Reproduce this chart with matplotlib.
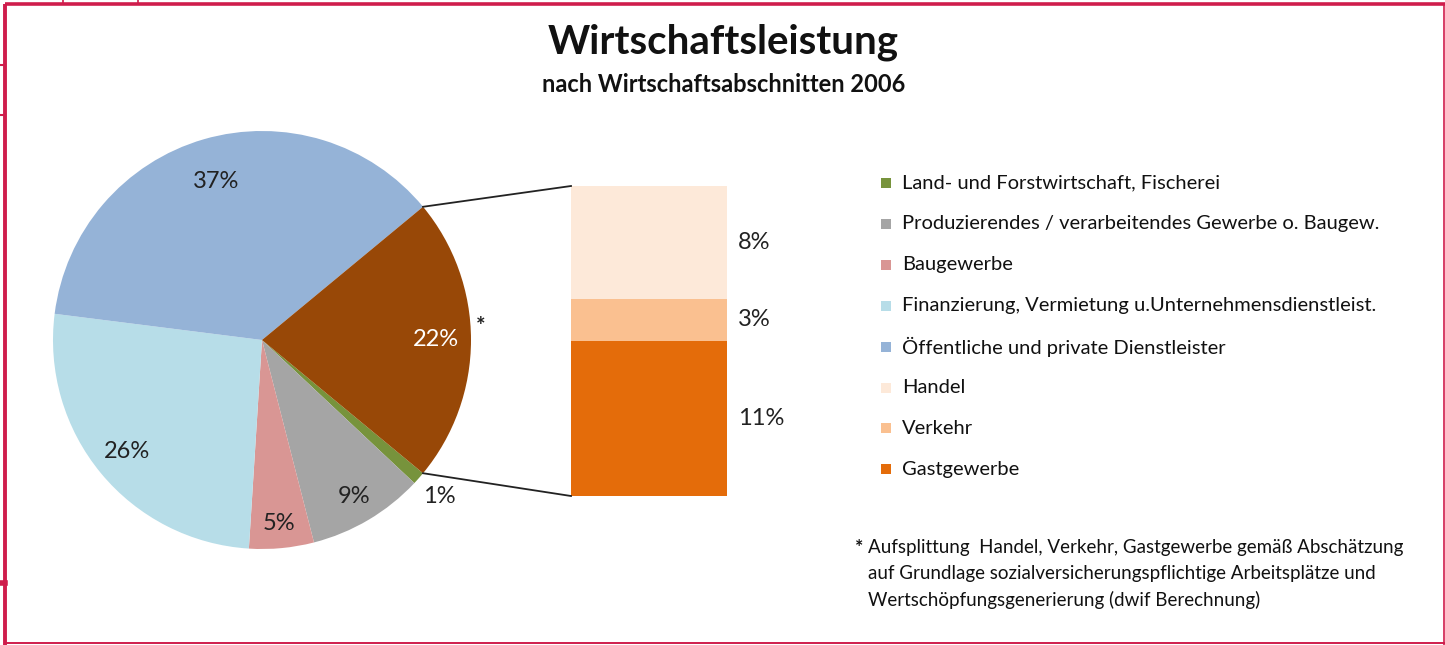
import numpy as np
import matplotlib.pyplot as plt
from matplotlib.patches import Rectangle, Wedge

plt.rcParams['font.family'] = ['Lato', 'DejaVu Sans']

# data
pie_labels = ["Land- und Forstwirtschaft, Fischerei",
              "Produzierendes / verarbeitendes Gewerbe o. Baugew.",
              "Baugewerbe",
              "Finanzierung, Vermietung u.Unternehmensdienstleist.",
              "Öffentliche und private Dienstleister"]
pie_values = [1, 9, 5, 26, 37]
pie_colors = ["#77933c", "#a5a5a5", "#d99694", "#b7dde8", "#95b3d7"]
other_value = 22
other_color = "#984807"

bar_labels = ["Handel", "Verkehr", "Gastgewerbe"]
bar_values = [8, 3, 11]
bar_colors = ["#fde9d9", "#fac090", "#e46c0a"]

footnote = ("Aufsplittung  Handel, Verkehr, Gastgewerbe gemäß Abschätzung\n"
            "auf Grundlage sozialversicherungspflichtige Arbeitsplätze und\n"
            "Wertschöpfungsgenerierung (dwif Berechnung)")

W, H = 1445, 645
fig = plt.figure(figsize=(W / 100, H / 100), dpi=100)
ax = fig.add_axes([0, 0, 1, 1])
ax.set_xlim(0, W)
ax.set_ylim(H, 0)
ax.axis('off')

# pie, in image coords (y down), so clockwise on screen = increasing angle
cx, cy, r = 262, 340, 209
vals = pie_values + [other_value]
cols = pie_colors + [other_color]
total = sum(vals)
a = other_value / total * 180.0  # other slice centred on 0 deg
angles = []
for v, c in zip(vals, cols):
    span = v / total * 360.0
    ax.add_patch(Wedge((cx, cy), r, a, a + span, facecolor=c, edgecolor='none'))
    angles.append(a + span / 2)
    a += span

pct_dist = [1.13, 0.87, 0.88, 0.84, 0.79, 0.83]
pct_colors = ['#222222'] * 5 + ['white']
for v, ang, d, tc in zip(vals, angles, pct_dist, pct_colors):
    t = np.deg2rad(ang)
    ax.text(cx + d * r * np.cos(t), cy + d * r * np.sin(t), f"{v}%",
            ha='center', va='center', fontsize=17, color=tc)
t = np.deg2rad(angles[-1] - 6)
ax.text(cx + 1.05 * r * np.cos(t), cy + 1.05 * r * np.sin(t) + 9, "*",
        ha='center', va='center', fontsize=16, fontweight='bold', color='#222222')

# bar of pie
bx, bw, btop, bbot = 571, 156, 186, 496
scale = (bbot - btop) / sum(bar_values)
y = btop
for v, c in zip(bar_values, bar_colors):
    h = v * scale
    ax.add_patch(Rectangle((bx, y), bw, h, facecolor=c, edgecolor='none'))
    ax.text(bx + bw + 11, y + h / 2, f"{v}%", ha='left', va='center',
            fontsize=17, color='#222222')
    y += h

# connector lines
t1 = np.deg2rad(-other_value / total * 180.0)
t2 = np.deg2rad(other_value / total * 180.0)
ax.plot([cx + r * np.cos(t1), bx], [cy + r * np.sin(t1), btop], color='#222222', lw=1.3)
ax.plot([cx + r * np.cos(t2), bx], [cy + r * np.sin(t2), bbot], color='#222222', lw=1.3)

# legend
leg_labels = pie_labels + bar_labels
leg_colors = pie_colors + bar_colors
for i, (lab, c) in enumerate(zip(leg_labels, leg_colors)):
    ly = 183 + i * 40.9
    ax.add_patch(Rectangle((881, ly - 5), 10, 10, facecolor=c, edgecolor='none'))
    ax.text(902, ly, lab, ha='left', va='center', fontsize=14.5, color='#111111')

# footnote
ax.text(855, 548, "*", ha='left', va='center', fontsize=14, fontweight='bold',
        color='#111111')
ax.text(868, 539, footnote, ha='left', va='top', fontsize=13.5, color='#111111',
        linespacing=1.62)

# titles
ax.text(723, 42, "Wirtschaftsleistung", ha='center', va='center',
        fontsize=29, fontweight='bold', color='#111111')
ax.text(724, 85, "nach Wirtschaftsabschnitten 2006", ha='center', va='center',
        fontsize=17, fontweight='bold', color='#111111')

# frame
fc = '#cf1d4c'
ax.plot([5, W], [4, 4], color=fc, lw=2.6, solid_capstyle='butt')
ax.plot([5, 5], [4, H], color=fc, lw=2.8, solid_capstyle='butt')
ax.plot([1443.5, 1443.5], [4, H], color=fc, lw=1.2)
ax.plot([5, W], [643, 643], color=fc, lw=1.4)
for xx in [63, 138]:
    ax.plot([xx, xx], [0, 4], color=fc, lw=1.2)
for yy in [65, 115]:
    ax.plot([0, 5], [yy, yy], color=fc, lw=1.5)
ax.plot([0, 5], [583, 583], color=fc, lw=4)

fig.savefig("out.png", dpi=100)
